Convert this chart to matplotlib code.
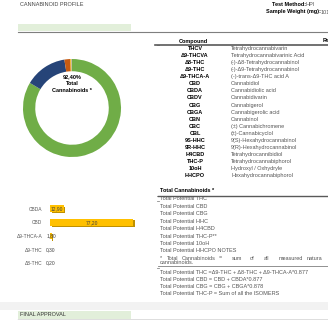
import matplotlib.pyplot as plt
from matplotlib.patches import Rectangle
from matplotlib.transforms import ScaledTranslation

plt.rcParams['font.family'] = ['Liberation Sans', 'DejaVu Sans']

# donut / bar data (% of sample)
cannabinoids = ['CBD', 'CBDA', 'Δ9-THCA-A', 'Δ9-THC', 'Δ8-THC']
percent = [77.20, 12.90, 1.80, 0.30, 0.20]
total_label = '92,40%'
donut_colors = ['#70AD47', '#264478', '#C55A11', '#FFC000', '#A5A5A5']

bar_cats = ['CBDA', 'CBD', 'Δ9-THCA-A', 'Δ9-THC', 'Δ8-THC']
bar_vals = [12.90, 77.20, 1.80, 0.30, 0.20]

compounds = ['THCV', 'Δ9-THCVA', 'Δ8-THC', 'Δ9-THC', 'Δ9-THCA-A', 'CBD', 'CBDA',
             'CBDV', 'CBG', 'CBGA', 'CBN', 'CBC', 'CBL', '9S-HHC', '9R-HHC',
             'H4CBD', 'THC-P', '10oH', 'HHCPO']
descriptions = ['Tetrahydrocannabivarin', 'Tetrahydrocannabivarinic Acid',
                '(-)-Δ8-Tetrahydrocannabinol', '(-)-Δ9-Tetrahydrocannabinol',
                '(-)-trans-Δ9-THC acid A', 'Cannabidiol', 'Cannabidiolic acid',
                'Cannabidivarin', 'Cannabigerol', 'Cannabigerolic acid', 'Cannabinol',
                '(±) Cannabichromene', '(±)-Cannabicyclol', '9(S)-Hexahydrocannabinol',
                '9(R)-Hexahydrocannabinol', 'Tetrahydrocannibidiol',
                'Tetrahydrocannabiphorol', 'Hydroxyl / Oxhydryle',
                'Hexahydrocannabiphorol']
totals = ['Total Potential THC', 'Total Potential CBD', 'Total Potential CBG',
          'Total Potential HHC', 'Total Potential H4CBD', 'Total Potential THC-P**',
          'Total Potential 10oH', 'Total Potential HHCPO NOTES']
formulas = ['Total Potential THC =Δ9-THC + Δ8-THC + Δ9-THCA-A*0.877',
            'Total Potential CBD = CBD + CBDA*0.877',
            'Total Potential CBG = CBG + CBGA*0.878',
            'Total Potential THC-P = Sum of all the ISOMERS']
note_words = ['*', 'Total', 'Cannabinoids', '=', 'sum', 'of', 'all', 'measured', 'natura']
note_x = [160, 167, 182, 219, 232, 250, 264, 279, 307]

W, H = 328, 320
fig = plt.figure(figsize=(W / 100, H / 100), dpi=100)

# page layer in pixel coordinates
pg = fig.add_axes([0, 0, 1, 1])
pg.set_xlim(0, W)
pg.set_ylim(H, 0)
pg.axis('off')

fs = 4
grey = '#555555'

pg.text(20, 5, 'CANNABINOID PROFILE', fontsize=fs, color='#444444', va='center')
pg.text(306, 5, 'Test Method:', fontsize=fs, fontweight='bold', ha='right', va='center')
pg.text(306, 5, 'HPI', fontsize=fs, color=grey, va='center')
pg.text(321, 12, 'Sample Weight (mg):', fontsize=fs, fontweight='bold', ha='right', va='center')
pg.text(321, 12, '101', fontsize=fs, color=grey, va='center')
pg.add_patch(Rectangle((18, 24), 113, 7, color='#E2EFDA', lw=0))
pg.plot([18, W], [32, 32], color='#7F7F7F', lw=0.8)

# chart frame corner marks
for y in (45, 196, 201, 268):
    pg.plot([157, 159], [y, y], color='#8C8C8C', lw=0.6)

# compound table
pg.text(193, 41, 'Compound', fontsize=fs, fontweight='bold', ha='center', va='center')
pg.text(323, 41, 'Result', fontsize=fs, fontweight='bold', va='center')
pg.plot([155, W], [45, 45], color='#595959', lw=1.2)
for i, (c, d) in enumerate(zip(compounds, descriptions)):
    y = 48.5 + i * 7.07
    pg.text(195, y, c, fontsize=fs, fontweight='bold', ha='center', va='center')
    pg.text(231, y, d, fontsize=fs, color=grey, va='center')

pg.text(160, 191, 'Total Cannabinoids *', fontsize=fs, fontweight='bold', va='center')
pg.plot([158, W], [195.5, 195.5], color='#595959', lw=1.0)
for i, t in enumerate(totals):
    pg.text(160, 199 + i * 7.4, t, fontsize=fs, color=grey, va='center')
for w, x in zip(note_words, note_x):
    pg.text(x, 258, w, fontsize=fs, color=grey, va='center')
pg.text(160, 262.5, 'cannabinoids.', fontsize=fs, color=grey, va='center')
pg.plot([158, W], [266, 266], color='#7F7F7F', lw=0.6)
for i, t in enumerate(formulas):
    pg.text(160, 272 + i * 7.1, t, fontsize=fs, color=grey, va='center')

# bottom of the page
pg.add_patch(Rectangle((0, 302), W, 8, color='#F2F2F2', lw=0))
pg.add_patch(Rectangle((18, 311), 113, 8, color='#E2EFDA', lw=0))
pg.text(20, 314.5, 'FINAL APPROVAL', fontsize=fs, color='#333333', va='center')
pg.plot([18, W], [319.5, 319.5], color='#595959', lw=1.0)

# donut
ax = fig.add_axes([23 / W, 1 - 157 / H, 98 / W, 98 / H])
ax.pie(percent, colors=donut_colors, startangle=90, counterclock=False,
       wedgeprops=dict(width=0.25, edgecolor='none'))
ax.set_xlim(-1, 1)
ax.set_ylim(-1, 1)
ax.text(0, 0.5, total_label + '\nTotal\nCannabinoids *', fontsize=fs, fontweight='bold',
        ha='center', va='center', linespacing=1.45)

# 3D-ish horizontal bars
bx = fig.add_axes([50 / W, 1 - 270 / H, 108 / W, 68 / H])
ypos = list(range(len(bar_cats)))
shadow = bx.transData + ScaledTranslation(1.5 / 100, -1.2 / 100, fig.dpi_scale_trans)
bx.barh(ypos, bar_vals, height=0.5, color='#BF9000', transform=shadow)
bx.barh(ypos, bar_vals, height=0.5, color='#FFC000')
for y, v in zip(ypos, bar_vals):
    bx.text(v / 2, y, f'{v:.2f}'.replace('.', ','), fontsize=3.5, color='#404040',
            ha='center', va='center')
bx.set_xlim(0, 100)
bx.set_ylim(4.5, -0.5)
bx.set_yticks(ypos)
bx.set_yticklabels(bar_cats, fontsize=3.5, color='#595959')
bx.tick_params(left=False, bottom=False, labelbottom=False, pad=2)
for s in bx.spines.values():
    s.set_visible(False)
bx.patch.set_alpha(0)

fig.savefig('out.png', dpi=100)
